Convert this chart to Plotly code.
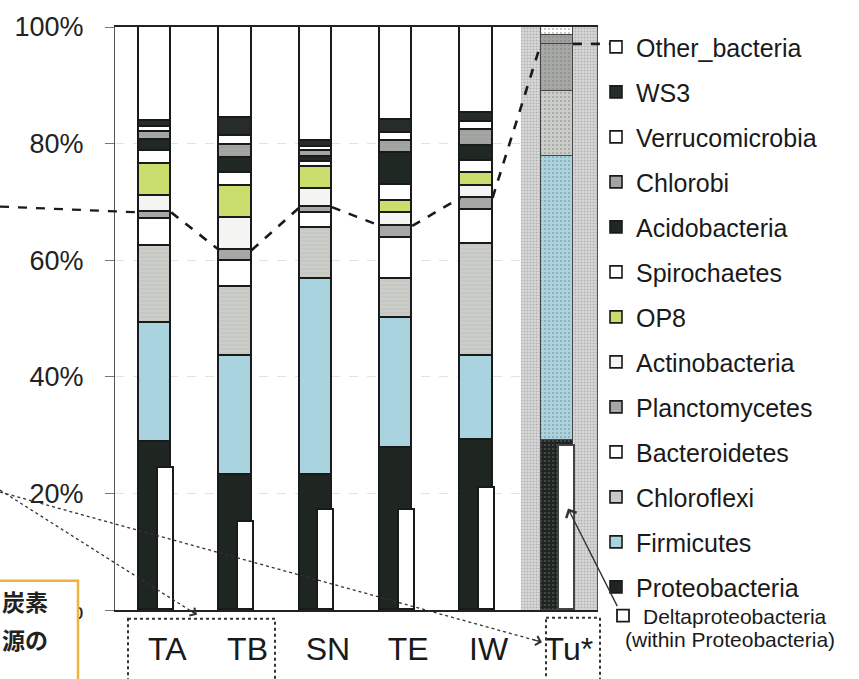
import plotly.graph_objects as go

# ---------------- data (% of reads) ----------------
categories = ["TA", "TB", "SN", "TE", "IW", "Tu*"]
proteobacteria  = [28.8, 23.1, 23.2, 27.8, 29.2, 29.2]
firmicutes      = [20.5, 20.5, 33.6, 22.3, 14.4, 48.6]
chloroflexi     = [13.1, 11.8, 8.7, 6.7, 19.1, 11.2]
bacteroidetes   = [4.7, 4.5, 2.6, 7.0, 5.9, 0.0]
planctomycetes  = [1.1, 1.8, 1.0, 2.1, 2.1, 8.1]
actinobacteria  = [2.8, 5.5, 3.1, 2.2, 2.0, 0.0]
op8             = [5.5, 5.5, 3.8, 2.1, 2.2, 0.0]
spirochaetes    = [2.3, 2.2, 0.9, 2.7, 2.2, 0.0]
acidobacteria   = [1.8, 2.7, 0.8, 5.5, 2.5, 0.0]
chlorobi        = [1.4, 2.2, 1.0, 2.1, 2.7, 1.6]
verrucomicrobia = [0.8, 1.5, 0.7, 1.4, 1.4, 0.0]
ws3             = [1.1, 3.1, 1.1, 2.2, 1.5, 0.0]
other_bacteria  = [16.1, 15.6, 19.5, 15.9, 14.8, 1.3]
deltaproteobacteria = [24.3, 15.1, 17.1, 17.1, 21.0, 28.2]

y_ticks = [0, 20, 40, 60, 80, 100]
y_ticktext = ["0%", "20%", "40%", "60%", "80%", "100%"]

# ---------------- styles ----------------
series = [
    ("Proteobacteria", proteobacteria, "#1f2622", ""),
    ("Firmicutes", firmicutes, "#a9d3df", ""),
    ("Chloroflexi", chloroflexi, "#cbcdc8", "-"),
    ("Bacteroidetes", bacteroidetes, "#ffffff", ""),
    ("Planctomycetes", planctomycetes, "#a6a8a5", ""),
    ("Actinobacteria", actinobacteria, "#f4f4f2", ""),
    ("OP8", op8, "#c9de6c", ""),
    ("Spirochaetes", spirochaetes, "#ffffff", ""),
    ("Acidobacteria", acidobacteria, "#202824", ""),
    ("Chlorobi", chlorobi, "#a0a29f", "-"),
    ("Verrucomicrobia", verrucomicrobia, "#ffffff", ""),
    ("WS3", ws3, "#262c29", ""),
    ("Other_bacteria", other_bacteria, "#ffffff", ""),
]

FONT = "Liberation Sans, Arial, sans-serif"
FIG_W, FIG_H = 859, 679
L, R, T, B = 115, 597, 24, 622
W, H = R - L, B - T


def px(x):
    return (x - L) / W


def py(y):
    return (B - y) / H


n = len(categories)
idx = list(range(n))
tu = categories.index("Tu*")
n_series = len(series)

fig = go.Figure()

# stippled background behind the Tu* column
fig.add_trace(go.Bar(
    x=[tu], y=[100], width=1.05, offset=-0.45, xaxis="x", yaxis="y",
    marker=dict(color="#d9d9d9", line=dict(width=0),
                pattern=dict(shape=".", fgcolor="#8a8a8a", bgcolor="#dadada",
                             size=3, solidity=0.4)),
    showlegend=False, hoverinfo="skip",
))

# stacked phyla
for k, (name, vals, color, pat) in enumerate(series):
    shapes_ = [pat] * n
    shapes_[tu] = "."
    fig.add_trace(go.Bar(
        x=idx, y=vals, name=name, width=0.4, offset=-0.2,
        xaxis="x2", yaxis="y", legendgroup=name, legend="legend",
        legendrank=n_series - k,
        marker=dict(
            color=color,
            line=dict(color=["#1a1a1a"] * (n - 1) + ["#444444"],
                      width=[1.6] * (n - 1) + [1.0]),
            pattern=dict(shape=shapes_,
                         fgcolor=["#b3b5b1"] * (n - 1) + ["#7a7a7a"],
                         bgcolor=color, size=4, solidity=0.22),
        ),
    ))

# Deltaproteobacteria (within Proteobacteria)
fig.add_trace(go.Bar(
    x=idx, y=deltaproteobacteria, name="Deltaproteobacteria", width=0.2,
    offset=0.03, xaxis="x3", yaxis="y", legend="legend2",
    marker=dict(color="#ffffff",
                line=dict(color=["#1a1a1a"] * (n - 1) + ["#444444"], width=1.8)),
))

# dashed line linking the top of Planctomycetes between bars
tops = [p + f + c + b + pl for p, f, c, b, pl in
        zip(proteobacteria, firmicutes, chloroflexi, bacteroidetes, planctomycetes)]
lx, ly = [], []
for i in range(n - 1):
    lx += [i + 0.2, i + 1 - 0.2, None]
    ly += [tops[i], tops[i + 1], None]
fig.add_trace(go.Scatter(
    x=lx, y=ly, mode="lines", xaxis="x3", yaxis="y",
    line=dict(color="#1a1a1a", width=2.6, dash="dash"),
    showlegend=False, hoverinfo="skip",
))

axis_common = dict(range=[-0.5, n - 0.5], fixedrange=True)
fig.update_layout(
    width=FIG_W, height=FIG_H,
    margin=dict(l=L, r=FIG_W - R, t=T, b=FIG_H - B),
    paper_bgcolor="white", plot_bgcolor="white",
    barmode="stack", bargap=0,
    font=dict(family=FONT, color="#1a1a1a"),
    xaxis=dict(**axis_common, tickvals=[i + 0.15 for i in idx], ticktext=categories,
               tickfont=dict(size=32, color="#1a1a1a"), ticks="",
               showline=True, linecolor="#222222", linewidth=1.5, mirror=True,
               showgrid=False, zeroline=False, ticklabelstandoff=10),
    xaxis2=dict(**axis_common, overlaying="x", anchor="y", visible=False),
    xaxis3=dict(**axis_common, overlaying="x", anchor="y", visible=False),
    yaxis=dict(range=[0, 100], tickvals=y_ticks, ticktext=y_ticktext,
               tickfont=dict(size=27, color="#222222"),
               ticks="outside", ticklen=9, tickcolor="#777777",
               showline=True, linecolor="#555555", linewidth=1.2, mirror=True,
               showgrid=True, gridcolor="#e2e2e2", griddash="dash", gridwidth=1,
               zeroline=False, ticklabelstandoff=16, fixedrange=True),
    legend=dict(x=px(596), xanchor="left", y=py(21), yanchor="top",
                traceorder="grouped", tracegroupgap=9.5, maxheight=FIG_H,
                font=dict(size=25, color="#1a1a1a", family=FONT),
                bgcolor="rgba(0,0,0,0)", borderwidth=0, itemclick=False),
    legend2=dict(x=px(603), xanchor="left", y=py(607), yanchor="top",
                 font=dict(size=21, color="#1a1a1a", family=FONT),
                 bgcolor="rgba(0,0,0,0)", borderwidth=0, itemclick=False),
)

shapes = []
# left extension of the dashed line and link to legend
shapes.append(dict(type="line", xref="paper", yref="y", x0=px(0), y0=tops[0] + 1.0,
                   x1=(0.3) / n, y1=tops[0],
                   line=dict(color="#1a1a1a", width=2.2, dash="dash")))
shapes.append(dict(type="line", xref="paper", yref="y", x0=(tu + 0.7) / n, y0=tops[tu],
                   x1=px(610), y1=tops[tu],
                   line=dict(color="#1a1a1a", width=2.6, dash="dash")))
# thin dotted pointer lines coming from the left
shapes.append(dict(type="line", xref="paper", yref="paper", x0=px(0), y0=py(499),
                   x1=px(197), y1=py(627), line=dict(color="#333333", width=1.3, dash="dot")))
shapes.append(dict(type="line", xref="paper", yref="paper", x0=px(0), y0=py(501),
                   x1=px(542), y1=py(655), line=dict(color="#333333", width=1.3, dash="dot")))
# dotted boxes around the labels
shapes.append(dict(type="rect", xref="paper", yref="paper", x0=px(128), y0=py(631),
                   x1=px(275), y1=py(700), line=dict(color="#333333", width=2, dash="dot")))
shapes.append(dict(type="rect", xref="paper", yref="paper", x0=px(546), y0=py(630),
                   x1=px(600), y1=py(700), line=dict(color="#333333", width=2, dash="dot")))
# Japanese note box (bottom-left, running off the page)
shapes.append(dict(type="rect", xref="paper", yref="paper", x0=px(-40), y0=py(592),
                   x1=px(78), y1=py(720), fillcolor="white", layer="above",
                   line=dict(color="#f0b23a", width=2.5)))
fig.update_layout(shapes=shapes)

annotations = [
    dict(xref="paper", yref="paper", x=px(623), y=py(652), xanchor="left", yanchor="middle",
         text="(within Proteobacteria)", showarrow=False,
         font=dict(size=21, color="#1a1a1a", family=FONT)),
    dict(xref="paper", yref="paper", x=px(0), y=py(613), xanchor="left", yanchor="middle",
         text="<b>炭素</b>", showarrow=False,
         font=dict(size=23, color="#222222", family="Noto Sans CJK JP")),
    dict(xref="paper", yref="paper", x=px(0), y=py(652), xanchor="left", yanchor="middle",
         text="<b>源の</b>", showarrow=False,
         font=dict(size=23, color="#222222", family="Noto Sans CJK JP")),
    # arrow from the legend to the Tu* Deltaproteobacteria bar
    dict(xref="paper", yref="paper", x=px(568), y=py(518), ax=50, ay=99, text="",
         showarrow=True, arrowhead=4, arrowsize=1.6, arrowwidth=1.4, arrowcolor="#333333"),
    # arrowheads of the dotted pointers
    dict(xref="paper", yref="paper", x=px(197), y=py(627), ax=-8.4, ay=-5.4, text="",
         showarrow=True, arrowhead=4, arrowsize=1.5, arrowwidth=1.2, arrowcolor="#333333"),
    dict(xref="paper", yref="paper", x=px(542), y=py(655), ax=-9.6, ay=-2.7, text="",
         showarrow=True, arrowhead=4, arrowsize=1.5, arrowwidth=1.2, arrowcolor="#333333"),
]
fig.update_layout(annotations=annotations)

fig.write_html("out.html")
